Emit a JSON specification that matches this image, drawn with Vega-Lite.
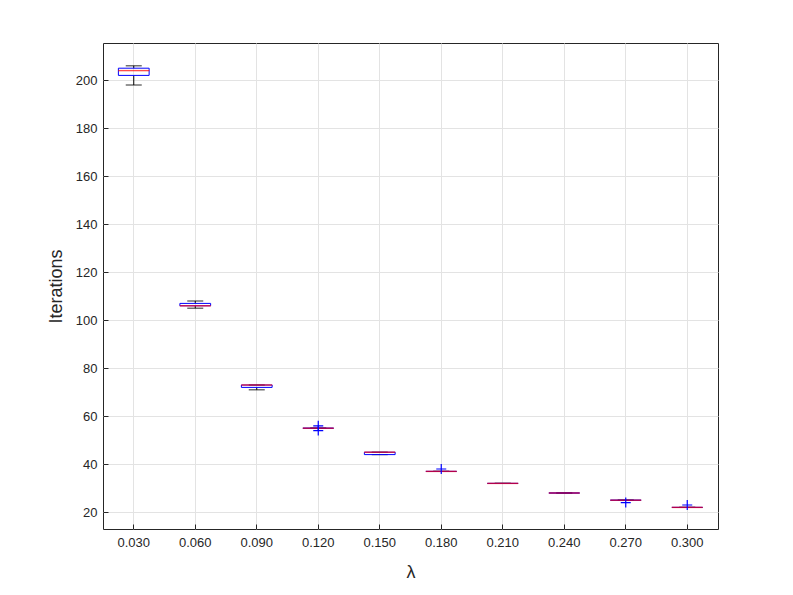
{
  "$schema": "https://vega.github.io/schema/vega-lite/v6.json",
  "width": 615,
  "height": 486,
  "autosize": {"type": "none"},
  "padding": {"left": 103, "top": 43, "right": 75, "bottom": 66},
  "background": "white",
  "config": {
    "view": {"stroke": "#262626", "strokeWidth": 1},
    "font": "Liberation Sans",
    "axis": {
      "labelFont": "Liberation Sans",
      "titleFont": "Liberation Sans",
      "labelColor": "#262626",
      "titleColor": "#262626",
      "labelFontSize": 13,
      "domainColor": "#262626",
      "tickColor": "#262626",
      "gridColor": "#e3e3e3",
      "gridOpacity": 1,
      "titleFontWeight": "normal"
    }
  },
  "datasets": {
    "boxes": [
      {"lam": "0.030", "lo": 198, "q1": 202, "med": 204, "q3": 205, "hi": 206},
      {"lam": "0.060", "lo": 105, "q1": 106, "med": 106, "q3": 107, "hi": 108},
      {"lam": "0.090", "lo": 71, "q1": 72, "med": 73, "q3": 73, "hi": 73},
      {"lam": "0.120", "lo": 55, "q1": 55, "med": 55, "q3": 55, "hi": 55},
      {"lam": "0.150", "lo": 44, "q1": 44, "med": 45, "q3": 45, "hi": 45},
      {"lam": "0.180", "lo": 37, "q1": 37, "med": 37, "q3": 37, "hi": 37},
      {"lam": "0.210", "lo": 32, "q1": 32, "med": 32, "q3": 32, "hi": 32},
      {"lam": "0.240", "lo": 28, "q1": 28, "med": 28, "q3": 28, "hi": 28},
      {"lam": "0.270", "lo": 25, "q1": 25, "med": 25, "q3": 25, "hi": 25},
      {"lam": "0.300", "lo": 22, "q1": 22, "med": 22, "q3": 22, "hi": 22}
    ],
    "outliers": [
      {"lam": "0.120", "v": 54},
      {"lam": "0.120", "v": 56},
      {"lam": "0.180", "v": 38},
      {"lam": "0.270", "v": 24},
      {"lam": "0.300", "v": 23}
    ]
  },
  "data": {"name": "boxes"},
  "encoding": {
    "x": {
      "field": "lam",
      "type": "nominal",
      "scale": {"type": "band", "paddingInner": 0, "paddingOuter": 0},
      "sort": null,
      "axis": {
        "title": "λ",
        "titleFontSize": 18,
        "titlePadding": 14,
        "labelAngle": 0,
        "grid": true,
        "tickBand": "center",
        "tickSize": -5,
        "labelPadding": 12,
        "domain": false
      }
    }
  },
  "layer": [
    {
      "mark": {"type": "rule", "color": "black", "strokeWidth": 1},
      "encoding": {
        "y": {
          "field": "q3",
          "type": "quantitative",
          "scale": {"domain": [13, 215.5], "nice": false, "zero": false},
          "axis": {
            "title": "Iterations",
            "titleFontSize": 18,
            "titlePadding": 10,
            "values": [20, 40, 60, 80, 100, 120, 140, 160, 180, 200],
            "grid": true,
            "tickSize": -5,
            "labelPadding": 11,
            "domain": false
          }
        },
        "y2": {"field": "hi"}
      }
    },
    {
      "mark": {"type": "rule", "color": "black", "strokeWidth": 1},
      "encoding": {
        "y": {"field": "lo", "type": "quantitative"},
        "y2": {"field": "q1"}
      }
    },
    {
      "mark": {"type": "tick", "color": "black", "size": 16, "thickness": 1.2},
      "encoding": {"y": {"field": "hi", "type": "quantitative"}}
    },
    {
      "mark": {"type": "tick", "color": "black", "size": 16, "thickness": 1.2},
      "encoding": {"y": {"field": "lo", "type": "quantitative"}}
    },
    {
      "mark": {"type": "bar", "width": {"band": 0.5}, "fill": "white", "fillOpacity": 0, "stroke": "#0000ff", "strokeWidth": 1},
      "encoding": {
        "y": {"field": "q1", "type": "quantitative"},
        "y2": {"field": "q3"}
      }
    },
    {
      "mark": {"type": "tick", "color": "#ff0000", "size": 31, "thickness": 1.4},
      "encoding": {"y": {"field": "med", "type": "quantitative"}}
    },
    {
      "data": {"name": "outliers"},
      "mark": {"type": "point", "shape": "M-1,0L1,0M0,-1L0,1", "filled": false, "stroke": "#0000ff", "strokeWidth": 1.2, "size": 100, "opacity": 1},
      "encoding": {"y": {"field": "v", "type": "quantitative"}}
    }
  ]
}
